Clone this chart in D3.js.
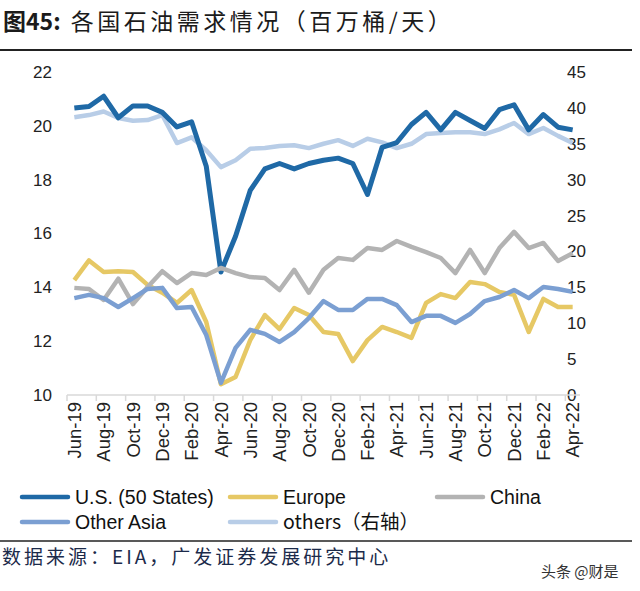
<!DOCTYPE html>
<html>
<head>
<meta charset="utf-8">
<script src="https://cdn.jsdelivr.net/npm/d3@7"></script>
<style>
  body { margin: 0; background: #fff; }
  text { font-family: "Liberation Sans", Arial, sans-serif; }
  .cjk { font-family: "Noto Sans CJK SC", sans-serif; }
</style>
</head>
<body>
<div class="chart"></div>
<script>
// months Jun-19 .. Apr-22
const months = ["Jun-19","Jul-19","Aug-19","Sep-19","Oct-19","Nov-19","Dec-19",
  "Jan-20","Feb-20","Mar-20","Apr-20","May-20","Jun-20","Jul-20","Aug-20","Sep-20","Oct-20","Nov-20","Dec-20",
  "Jan-21","Feb-21","Mar-21","Apr-21","May-21","Jun-21","Jul-21","Aug-21","Sep-21","Oct-21","Nov-21","Dec-21",
  "Jan-22","Feb-22","Mar-22","Apr-22"];

const us = [20.66,20.72,21.1,20.3,20.74,20.74,20.5,19.96,20.15,18.5,14.57,15.9,17.6,18.4,18.6,18.4,18.6,18.72,18.8,18.6,17.45,19.2,19.38,20.05,20.5,19.85,20.5,20.2,19.9,20.6,20.78,19.85,20.42,19.95,19.85];
const europe = [14.27,15.0,14.57,14.6,14.57,14.09,13.8,13.42,13.9,12.71,10.4,10.67,12.04,12.97,12.45,13.23,12.97,12.34,12.27,11.26,12.04,12.53,12.34,12.12,13.42,13.75,13.6,14.2,14.12,13.83,13.72,12.34,13.57,13.27,13.27];
const china = [13.98,13.94,13.53,14.32,13.38,14.01,14.6,14.16,14.53,14.46,14.72,14.53,14.38,14.35,13.9,14.65,13.8,14.65,15.09,15.02,15.46,15.39,15.72,15.5,15.31,15.09,14.53,15.39,14.53,15.46,16.06,15.46,15.65,14.98,15.27];
const otherAsia = [13.6,13.72,13.6,13.27,13.6,13.94,13.98,13.23,13.27,12.23,10.45,11.75,12.42,12.27,11.97,12.34,12.86,13.49,13.16,13.16,13.57,13.57,13.34,12.71,12.94,12.94,12.68,13.01,13.49,13.64,13.9,13.6,14.01,13.94,13.83];
const others = [38.7,39.0,39.5,38.6,38.2,38.3,39.0,35.1,35.9,34.1,31.75,32.7,34.3,34.4,34.7,34.8,34.4,35.0,35.5,34.7,35.7,35.2,34.4,35.0,36.35,36.5,36.6,36.6,36.35,37.0,37.9,36.35,37.2,36.1,35.1];

const leftTicks = [10,12,14,16,18,20,22];
const rightTicks = [0,5,10,15,20,25,30,35,40,45];

const seriesNames = ["U.S. (50 States)","Europe","China","Other Asia","others（右轴）"];
const seriesColors = ["#1f69a6","#e6c865","#b3b3b3","#7b9fd2","#b8cde7"];

const svg = d3.select(".chart").append("svg")
  .attr("width", 640)
  .attr("height", 591);

// title
svg.append("text")
  .attr("class", "cjk")
  .attr("x", 3)
  .attr("y", 30)
  .attr("font-size", 23)
  .attr("fill", "#1b1b1b")
  .html('<tspan font-weight="bold">图45:</tspan><tspan dx="10" letter-spacing="3.5">各国石油需求情况（百万桶/天）</tspan>');

svg.append("line")
  .attr("x1", 0).attr("x2", 632)
  .attr("y1", 50).attr("y2", 50)
  .attr("stroke", "#222").attr("stroke-width", 2);

const x = d3.scaleBand().domain(months).range([67, 580]).padding(0);
const yL = d3.scaleLinear().domain([10, 22]).range([395, 72]);
const yR = d3.scaleLinear().domain([0, 45]).range([395, 72]);
const cx = d => x(d) + x.bandwidth() / 2;

// left tick labels
svg.selectAll(".lt").data(leftTicks).enter().append("text")
  .attr("x", 52)
  .attr("y", d => yL(d))
  .attr("dy", "0.35em")
  .attr("text-anchor", "end")
  .attr("font-size", 17)
  .attr("fill", "#222")
  .text(d => d);

// right tick labels
svg.selectAll(".rt").data(rightTicks).enter().append("text")
  .attr("x", 567)
  .attr("y", d => yR(d))
  .attr("dy", "0.35em")
  .attr("text-anchor", "start")
  .attr("font-size", 17)
  .attr("fill", "#222")
  .text(d => d);

// x axis line and ticks
svg.append("line")
  .attr("x1", 67).attr("x2", 580)
  .attr("y1", 395).attr("y2", 395)
  .attr("stroke", "#d9d9d9").attr("stroke-width", 1.5);

const tickMonths = months.filter((m, i) => i % 2 === 0);
svg.selectAll(".tk").data(tickMonths).enter().append("line")
  .attr("x1", d => x(d)).attr("x2", d => x(d))
  .attr("y1", 395).attr("y2", 401)
  .attr("stroke", "#d9d9d9").attr("stroke-width", 1.5);

svg.selectAll(".xl").data(tickMonths).enter().append("text")
  .attr("transform", d => "translate(" + cx(d) + ",402) rotate(-90)")
  .attr("text-anchor", "end")
  .attr("dy", "0.36em")
  .attr("font-size", 18.5)
  .attr("fill", "#222")
  .text(d => d);

// lines
const lineL = d3.line().x((d, i) => cx(months[i])).y(d => yL(d));
const lineR = d3.line().x((d, i) => cx(months[i])).y(d => yR(d));

svg.append("path").datum(others)
  .attr("d", lineR).attr("fill", "none")
  .attr("stroke", seriesColors[4]).attr("stroke-width", 4.5).attr("stroke-linejoin", "round");

[us, europe, china, otherAsia].forEach((s, k) => {
  svg.append("path").datum(s)
    .attr("d", lineL).attr("fill", "none")
    .attr("stroke", seriesColors[k]).attr("stroke-width", k === 0 ? 5 : 4.5).attr("stroke-linejoin", "round");
});

// legend
const legendPos = [[22, 497], [230, 497], [437, 497], [22, 522], [230, 522]];
seriesNames.forEach((name, k) => {
  const p = legendPos[k];
  svg.append("line")
    .attr("x1", p[0]).attr("x2", p[0] + 46)
    .attr("y1", p[1]).attr("y2", p[1])
    .attr("stroke", seriesColors[k]).attr("stroke-width", 4.5).attr("stroke-linecap", "round");
  svg.append("text")
    .attr("class", k === 4 ? "cjk" : null)
    .attr("x", p[0] + 53)
    .attr("y", p[1])
    .attr("dy", "0.35em")
    .attr("font-size", 19.5)
    .attr("fill", "#111")
    .text(name);
});

svg.append("line")
  .attr("x1", 0).attr("x2", 632)
  .attr("y1", 541).attr("y2", 541)
  .attr("stroke", "#222").attr("stroke-width", 1.5);

svg.append("text")
  .attr("class", "cjk")
  .attr("x", 2)
  .attr("y", 564)
  .attr("font-size", 19)
  .attr("letter-spacing", 3)
  .attr("fill", "#1b2a4a")
  .text("数据来源：EIA，广发证券发展研究中心");

svg.append("text")
  .attr("class", "cjk")
  .attr("x", 541)
  .attr("y", 577)
  .attr("font-size", 15)
  .attr("fill", "#333")
  .text("头条 @财是");
</script>
</body>
</html>
